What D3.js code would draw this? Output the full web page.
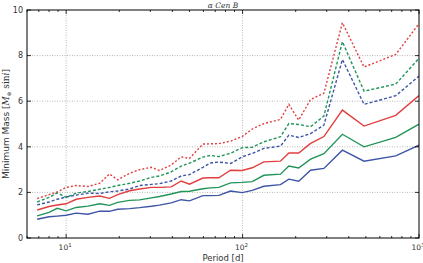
<!DOCTYPE html>
<html>
<head>
<meta charset="utf-8">
<script src="https://cdn.jsdelivr.net/npm/d3@7"></script>
<style>
  body { margin: 0; background: #fff; }
  svg { display: block; }
</style>
</head>
<body>
<div id="wrapper"></div>
<script>
// periods [d] shared by all curves
const periods = [6.85, 8.0, 8.9, 10.0, 11.4, 13.3, 15.5, 17.6, 19.6, 22.9, 26.1, 30.4, 33.8, 39.4, 44.9, 50.0,
  59.6, 65.8, 73.4, 85.5, 99.5, 113.5, 132, 164, 183, 208, 243, 289, 368, 488, 738, 1000];

const blueSolid = [0.82, 0.93, 0.96, 1.0, 1.09, 1.04, 1.18, 1.17, 1.26, 1.29, 1.33, 1.39, 1.44, 1.54, 1.68, 1.63,
  1.86, 1.86, 1.87, 2.06, 1.99, 2.09, 2.27, 2.34, 2.58, 2.49, 2.97, 3.05, 3.85, 3.37, 3.60, 4.07];
const greenSolid = [0.97, 1.12, 1.30, 1.19, 1.34, 1.40, 1.50, 1.43, 1.56, 1.65, 1.67, 1.76, 1.82, 1.93, 2.04, 2.05,
  2.16, 2.20, 2.22, 2.42, 2.44, 2.47, 2.75, 2.80, 3.16, 3.07, 3.46, 3.70, 4.55, 4.00, 4.41, 4.99];
const redSolid = [1.23, 1.38, 1.45, 1.50, 1.70, 1.78, 1.84, 1.74, 1.90, 2.07, 2.15, 2.22, 2.22, 2.24, 2.50, 2.36,
  2.63, 2.64, 2.64, 2.97, 2.96, 3.08, 3.34, 3.37, 3.73, 3.73, 4.15, 4.45, 5.61, 4.91, 5.38, 6.25];
const blueDashed = [1.45, 1.58, 1.70, 1.80, 1.88, 1.97, 1.95, 2.03, 2.06, 2.15, 2.30, 2.35, 2.38, 2.50, 2.72, 2.78,
  3.10, 3.29, 3.33, 3.27, 3.56, 3.71, 3.93, 4.03, 4.51, 4.41, 4.58, 4.95, 7.83, 5.86, 6.24, 7.10];
const greenDashed = [1.58, 1.78, 1.98, 1.78, 1.97, 2.04, 2.14, 2.22, 2.30, 2.40, 2.50, 2.66, 2.72, 2.90, 3.15, 3.28,
  3.55, 3.62, 3.57, 3.72, 3.96, 3.98, 4.22, 4.44, 5.02, 4.98, 4.88, 5.35, 8.61, 6.44, 6.75, 7.88];
const redDashed = [1.73, 1.90, 2.02, 2.22, 2.30, 2.26, 2.40, 2.81, 2.55, 2.84, 3.00, 3.10, 2.96, 3.20, 3.56, 3.49,
  4.12, 4.13, 4.14, 4.25, 4.45, 4.78, 5.02, 5.20, 5.86, 5.17, 6.08, 6.35, 9.44, 7.50, 8.05, 9.40];

const yTicks = [0, 2, 4, 6, 8, 10];
const xMajor = [10, 100, 1000];
const xMinor = [6, 7, 8, 9, 20, 30, 40, 50, 60, 70, 80, 90, 200, 300, 400, 500, 600, 700, 800, 900];

const series = [
  {vals: blueSolid, color: "#3d55a6", dash: null},
  {vals: greenSolid, color: "#22945a", dash: null},
  {vals: redSolid, color: "#e23d3f", dash: null},
  {vals: blueDashed, color: "#3d55a6", dash: "3,2"},
  {vals: greenDashed, color: "#22945a", dash: "3,2"},
  {vals: redDashed, color: "#e23d3f", dash: "2,2"}
];

const W = 423, H = 263;
const m = {left: 27, right: 4, top: 10, bottom: 25};

const x = d3.scaleLog().domain([6, 1000]).range([m.left, W - m.right]);
const y = d3.scaleLinear().domain([0, 10]).range([H - m.bottom, m.top]);

const svg = d3.select("#wrapper").append("svg")
  .attr("width", W).attr("height", H);

// grid
const grid = svg.append("g").attr("stroke", "#999").attr("stroke-width", 0.7)
  .attr("stroke-dasharray", "1,1.5");
grid.selectAll(".gx").data([10, 100]).join("line")
  .attr("x1", d => x(d)).attr("x2", d => x(d))
  .attr("y1", m.top).attr("y2", H - m.bottom);
grid.selectAll(".gy").data([2, 4, 6, 8]).join("line")
  .attr("x1", m.left).attr("x2", W - m.right)
  .attr("y1", d => y(d)).attr("y2", d => y(d));

// curves
const line = d3.line().x((d, i) => x(periods[i])).y(d => y(d));
const clipId = "plotclip";
svg.append("clipPath").attr("id", clipId).append("rect")
  .attr("x", m.left).attr("y", m.top)
  .attr("width", W - m.right - m.left).attr("height", H - m.bottom - m.top);

svg.append("g").attr("clip-path", `url(#${clipId})`)
  .selectAll("path").data(series).join("path")
  .attr("d", d => line(d.vals))
  .attr("fill", "none")
  .attr("stroke", d => d.color)
  .attr("stroke-width", 1.4)
  .attr("stroke-dasharray", d => d.dash);

// ticks (inward, on all four sides)
const ticks = svg.append("g").attr("stroke", "#000").attr("stroke-width", 0.8);
const bottomY = H - m.bottom, topY = m.top;
[[xMajor, 4], [xMinor, 2]].forEach(([arr, len]) => {
  arr.forEach(v => {
    ticks.append("line").attr("x1", x(v)).attr("x2", x(v)).attr("y1", bottomY).attr("y2", bottomY - len);
    ticks.append("line").attr("x1", x(v)).attr("x2", x(v)).attr("y1", topY).attr("y2", topY + len);
  });
});
yTicks.forEach(v => {
  ticks.append("line").attr("x1", m.left).attr("x2", m.left + 4).attr("y1", y(v)).attr("y2", y(v));
  ticks.append("line").attr("x1", W - m.right).attr("x2", W - m.right - 4).attr("y1", y(v)).attr("y2", y(v));
});

// frame
svg.append("rect")
  .attr("x", m.left).attr("y", m.top)
  .attr("width", W - m.right - m.left).attr("height", H - m.bottom - m.top)
  .attr("fill", "none").attr("stroke", "#000").attr("stroke-width", 1);

// tick labels
const font = "DejaVu Sans, sans-serif";
svg.append("g").selectAll("text").data(yTicks).join("text")
  .attr("x", m.left - 4).attr("y", d => y(d) + 2.8)
  .attr("text-anchor", "end")
  .attr("font-family", font).attr("font-size", 8).attr("fill", "#333")
  .text(d => d);

// 10^3 sits on the right edge and is cut by the window, as in the original
const xl = svg.append("g").selectAll("text").data(xMajor).join("text")
  .attr("x", d => x(d) - 1).attr("y", bottomY + 12)
  .attr("text-anchor", "middle")
  .attr("font-family", font).attr("font-size", 7.5).attr("fill", "#333");
xl.append("tspan").text("10");
xl.append("tspan").attr("dy", -3).attr("font-size", 5.5).text(d => Math.round(Math.log10(d)));

// axis labels
svg.append("text")
  .attr("x", (m.left + W - m.right) / 2).attr("y", H - 2)
  .attr("text-anchor", "middle")
  .attr("font-family", font).attr("font-size", 8.5).attr("fill", "#333")
  .text("Period [d]");

const yl = svg.append("text")
  .attr("transform", `translate(9,${(m.top + H - m.bottom) / 2}) rotate(-90)`)
  .attr("text-anchor", "middle")
  .attr("font-family", font).attr("font-size", 9).attr("fill", "#333");
yl.append("tspan").text("Minimum Mass [");
yl.append("tspan").attr("font-family", "DejaVu Serif, serif").attr("font-style", "italic").text("M");
yl.append("tspan").attr("font-size", 5.5).attr("dy", 1.5).text("⊕");
yl.append("tspan").attr("dy", -1.5).attr("font-family", "DejaVu Serif, serif").text(" sin");
yl.append("tspan").attr("font-family", "DejaVu Serif, serif").attr("font-style", "italic").text("i");
yl.append("tspan").text("]");

// title
svg.append("text")
  .attr("x", (m.left + W - m.right) / 2).attr("y", 7.5)
  .attr("text-anchor", "middle")
  .attr("font-family", "DejaVu Serif, serif").attr("font-style", "italic")
  .attr("font-size", 7.5).attr("fill", "#333")
  .text("α Cen B");
</script>
</body>
</html>
